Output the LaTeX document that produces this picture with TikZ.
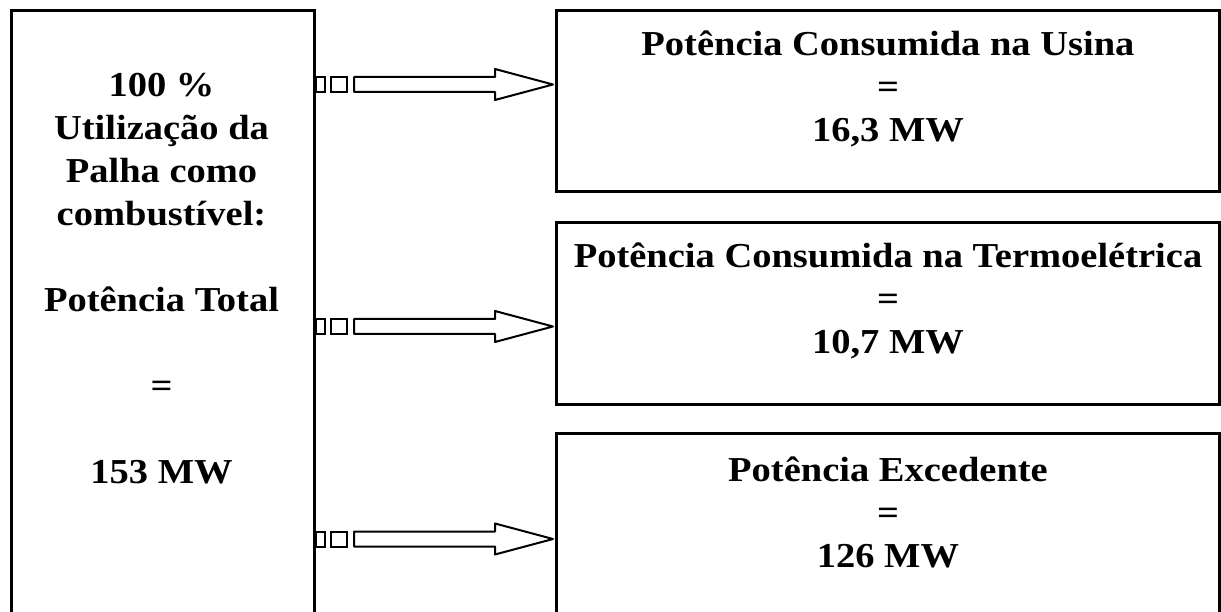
\documentclass[tikz,border=0pt]{standalone}
\usepackage{fontspec}
\setmainfont{Liberation Serif}[FakeStretch=1.1]
\usepackage{tikz}
\usetikzlibrary{calc}

\begin{document}
\begin{tikzpicture}[
  x=1pt, y=-1pt,
  box/.style={draw, line width=3pt, fill=white, inner sep=0pt, anchor=north west},
  txt/.style={align=center, inner sep=0pt, font=\fontsize{35}{43}\selectfont\bfseries},
  tick/.style={draw, line width=2pt},
  fat/.style={draw, line width=2pt, fill=white, line join=round}
]
\useasboundingbox (0,0) rectangle (1221,612);
\clip (0,0) rectangle (1221,612);

% boxes
\node[box, minimum width=303pt, minimum height=613pt] (total) at (10,9) {};
\node[box, minimum width=663pt, minimum height=181pt] (usina) at (555,9) {};
\node[box, minimum width=663pt, minimum height=182pt] (termo) at (555,221) {};
\node[box, minimum width=663pt, minimum height=200pt] (exced) at (555,432) {};

% texts
\node[txt] (totaltxt) at (161.5,279) {100 \%\\ Utilização da\\ Palha como\\ combustível:\\[43pt]
  Potência Total\\[43pt] =\\[43pt] 153 MW};
\node[txt] (usinatxt) at ([yshift=-80pt]usina.north) {Potência Consumida na Usina\\ =\\ 16,3 MW};
\node[txt] (termotxt) at ([yshift=-80pt]termo.north) {Potência Consumida na Termoelétrica\\ =\\ 10,7 MW};
\node[txt] (excedtxt) at ([yshift=-80pt]exced.north) {Potência Excedente\\ =\\ 126 MW};

% arrows
\foreach \name/\yy in {usina/84.5, termo/326.5, exced/539}{
  \coordinate (s) at (total.east |- 0,\yy);
  \coordinate (t) at (\name.west |- s);
  \draw[tick] ($(s)+(0,-7.5)$) rectangle ($(s)+(9,7.5)$);
  \draw[tick] ($(s)+(15,-7.5)$) rectangle ($(s)+(31,7.5)$);
  \draw[fat] ($(s)+(38,-7.5)$) -- ($(t)+(-60,-7.5)$) -- ($(t)+(-60,-15.5)$) -- ($(t)+(-2,0)$)
    -- ($(t)+(-60,15.5)$) -- ($(t)+(-60,7.5)$) -- ($(s)+(38,7.5)$) -- cycle;
}
\end{tikzpicture}
\end{document}
